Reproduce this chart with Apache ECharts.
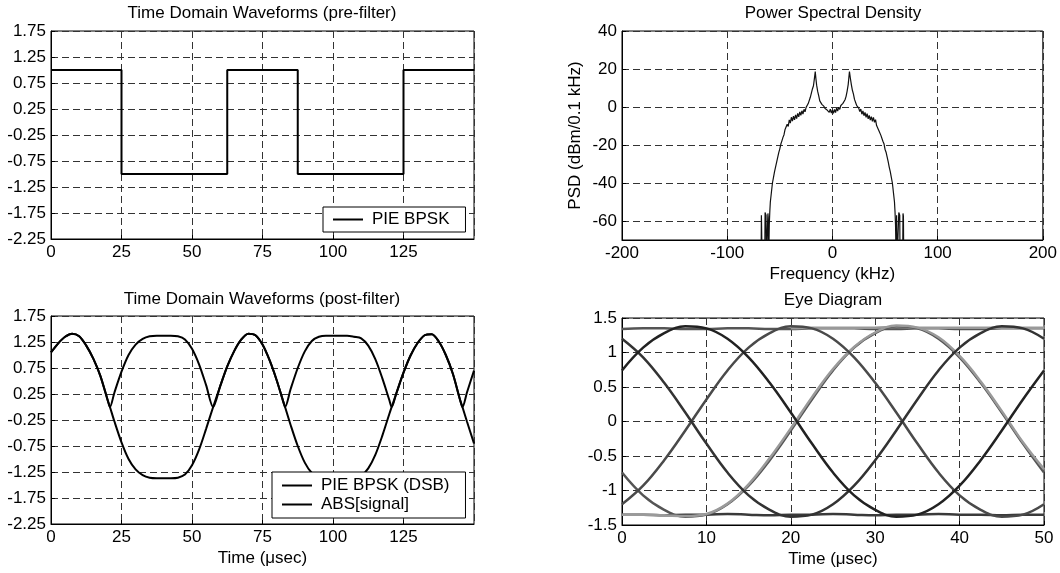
<!DOCTYPE html>
<html>
<head>
<meta charset="utf-8">
<script src="https://cdn.jsdelivr.net/npm/echarts@6/dist/echarts.min.js"></script>
<style>
    html, body { margin: 0; padding: 0; background: #fff; }
    #chart { width: 1060px; height: 573px; }
</style>
</head>
<body>
<div id="chart"></div>
<script>
// Datos

// Forma de onda antes del filtro (PIE BPSK)
const preTime = [0, 25, 25, 62.5, 62.5, 87.5, 87.5, 125, 125, 150];
const preLevel = [1, 1, -1, -1, 1, 1, -1, -1, 1, 1];

// Forma de onda después del filtro (µs)
const postTime = [0, 2.5, 5, 7.5, 10, 12.5, 15, 17.5, 20, 20.9, 22.5, 25, 27.5, 30, 32.5, 35, 37.5, 40,
    42.5, 45, 47.5, 50, 52.5, 55, 57.5, 60, 62.5, 65, 67.5, 70, 72.5, 75, 77.5, 80, 82.5, 83.0, 85,
    87.5, 90, 92.5, 95, 97.5, 100, 102.5, 105, 107.5, 110, 112.5, 115, 117.5, 120, 120.8, 122.5, 125,
    127.5, 130, 132.5, 135, 137.5, 140, 142.5, 145, 145.9, 147.5, 150];
const postSignal = [1.05, 1.22, 1.35, 1.41, 1.36, 1.18, 0.93, 0.60, 0.15, 0, -0.28, -0.68, -1.00, -1.20, -1.31,
    -1.36, -1.37, -1.37, -1.37, -1.36, -1.30, -1.12, -0.82, -0.42, 0.00, 0.40, 0.78, 1.08, 1.30, 1.41,
    1.38, 1.20, 0.90, 0.52, 0.08, 0, -0.35, -0.75, -1.07, -1.27, -1.35, -1.37, -1.37, -1.37, -1.37, -1.35,
    -1.32, -1.18, -0.92, -0.55, -0.13, 0, 0.27, 0.66, 0.99, 1.23, 1.38, 1.40, 1.26, 1.00, 0.64, 0.15, 0,
    -0.28, -0.70];
const postAbs = [1.05, 1.22, 1.35, 1.41, 1.36, 1.18, 0.93, 0.60, 0.15, 0, 0.28, 0.68, 1.00, 1.20, 1.31,
    1.36, 1.37, 1.37, 1.37, 1.36, 1.30, 1.12, 0.82, 0.42, 0.00, 0.40, 0.78, 1.08, 1.30, 1.41,
    1.38, 1.20, 0.90, 0.52, 0.08, 0, 0.35, 0.75, 1.07, 1.27, 1.35, 1.37, 1.37, 1.37, 1.37, 1.35,
    1.32, 1.18, 0.92, 0.55, 0.13, 0, 0.27, 0.66, 0.99, 1.23, 1.38, 1.40, 1.26, 1.00, 0.64, 0.15, 0,
    0.28, 0.70];

// Densidad espectral (kHz, dBm/0.1 kHz)
const psdFreq = [-70, -67.8, -67.5, -67.1, -66.8, -64.3, -64.0, -63.5, -63.1, -62.8, -61.6, -61.3, -61.0,
    -60.7, -60.4, -60.0, -59.5, -59, -58, -57, -56, -55, -54, -53, -52, -51, -50, -49, -48, -47, -46,
    -45, -44, -43, -42, -41, -40, -39, -38, -37, -36, -35, -34, -33, -32, -31, -30, -29, -28, -27, -26,
    -25, -24, -23, -22, -21, -20, -19, -18, -17, -16.3, -15.7, -15, -14, -13, -12, -11, -10, -9, -8,
    -7, -6, -5, -4, -3, -2, -1, 0, 1, 2, 3, 4, 5, 6, 7, 8, 9, 10, 11, 12, 13, 14, 15, 15.6, 16.2, 17,
    18, 19, 20, 21, 22, 23, 24, 25, 26, 27, 28, 29, 30, 31, 32, 33, 34, 35, 36, 37, 38, 39, 40, 41, 42,
    43, 44, 45, 46, 47, 48, 49, 50, 51, 52, 53, 54, 55, 56, 57, 58, 59, 59.5, 60.0, 60.4, 60.7, 61.0,
    61.3, 61.6, 62.8, 63.1, 63.5, 64.0, 64.3, 66.8, 67.1, 67.5, 67.8, 70];
const psdLevel = [-80, -80, -57, -56, -80, -80, -55.5, -55, -57, -80, -80, -56, -58,
    -80, -75, -62, -55, -50, -45, -40, -37, -34, -31.5, -29, -26.5, -24, -22, -19.5, -17.8, -16, -14.6,
    -11.8, -12.6, -9.1, -10.2, -6.8, -8.5, -5.4, -7.4, -4.8, -6.8, -4.1, -6.1, -3.4, -5.2, -2.6, -4.4, -2.0, -3.7, -1.2, -2.5,
    -0.2, -1.1, 1.8, 2.1, 5.1, 5.9, 9.5, 11.2, 15.5, 18.6, 15.0, 11.5, 8.2, 5.8, 3.2, 3.1, 1.4, 0.4, 0.3,
    -0.8, -0.4, -1.6, -1.1, -2.8, -1.2, -3.2, -1.6, -3.3, -1.3, -2.9, -0.6, -2.1, -0.1, -1.3, 0.8, -0.1, 1.9, 2.0, 3.8, 5.6, 8.4, 11.8, 15.2, 18.6, 15.4,
    11.8, 8.8, 6.8, 4.0, 3.2, 0.9, 0.6, -0.6, -2.4, -1.1, -3.8, -2.1, -4.6, -2.8, -5.4, -3.5, -6.2, -4.4, -6.9, -5.1, -7.5, -5.5, -8.1, -6.7, -9.8,
    -9.0, -12.2, -12.1, -14.8, -15.8, -18.0, -19.3, -22.2, -23.8, -26.2, -28.8, -31.6, -34, -37, -40, -45, -50, -55, -62, -75, -80, -57,
    -56, -80, -80, -55.5, -55, -57, -80, -80, -56, -57.5, -80, -80];

// Diagrama de ojo (µs)
const eyeTime = [0, 2.5, 5, 7.5, 10, 12.5, 15, 17.5, 20, 22.5, 25, 27.5, 30, 32.5, 35, 37.5, 40, 42.5, 45, 47.5, 50];
const eyeTop = [1.34, 1.35, 1.35, 1.34, 1.34, 1.35, 1.35, 1.34, 1.34, 1.35, 1.35, 1.35, 1.34, 1.34, 1.35, 1.35, 1.34, 1.34, 1.35, 1.35, 1.35];
const eyeBottom = [-1.35, -1.35, -1.36, -1.35, -1.35, -1.34, -1.35, -1.36, -1.35, -1.35, -1.34, -1.35, -1.36, -1.35, -1.35, -1.34, -1.35, -1.35, -1.36, -1.35, -1.35];
const eyeRiseA = [0.74, 1.07, 1.28, 1.38, 1.35, 1.20, 0.93, 0.56, 0.13, -0.32, -0.74, -1.07, -1.28, -1.38, -1.35, -1.20, -0.93, -0.56, -0.13, 0.32, 0.74];
const eyeFallA = [-0.74, -1.07, -1.28, -1.38, -1.35, -1.20, -0.93, -0.56, -0.13, 0.32, 0.74, 1.07, 1.28, 1.38, 1.35, 1.20, 0.93, 0.56, 0.13, -0.32, -0.74];
const eyeFallB = [1.20, 0.93, 0.56, 0.13, -0.32, -0.74, -1.07, -1.28, -1.38, -1.35, -1.20, -0.93, -0.56, -0.13, 0.32, 0.74, 1.07, 1.28, 1.38, 1.35, 1.20];
const eyeRiseB = [-1.20, -0.93, -0.56, -0.13, 0.32, 0.74, 1.07, 1.28, 1.38, 1.35, 1.20, 0.93, 0.56, 0.13, -0.32, -0.74, -1.07, -1.28, -1.38, -1.35, -1.20];
const eyeLight = [-1.35, -1.35, -1.36, -1.37, -1.34, -1.19, -0.91, -0.53, -0.10, 0.35, 0.76, 1.08, 1.29, 1.39, 1.36, 1.22, 0.95, 0.58, 0.15, -0.30, -0.69];
const eyeLightTop = [null, null, null, null, null, null, null, null, 1.35, 1.36, 1.36, 1.36, 1.36, 1.37, 1.36, 1.36, 1.36, 1.36, 1.36, 1.36, 1.36];

// Marcas de los ejes
const leftTicks = { min: -2.25, max: 1.75, step: 0.5 };
const timeTicks = { min: 0, max: 150, step: 25 };
const freqTicks = { min: -200, max: 200, step: 100 };
const psdRange = { min: -70, max: 40 };
const eyeXTicks = { min: 0, max: 50, step: 10 };
const eyeYTicks = { min: -1.5, max: 1.5, step: 0.5 };

const FUENTE = '"Liberation Sans", Arial, Helvetica, sans-serif';
const TAM = 17;

function pares(xs, ys) {
    return xs.map((x, i) => [x, ys[i]]);
}

function eje(gridIndex, extra, labelExtra) {
    return Object.assign({
        type: 'value',
        gridIndex: gridIndex,
        axisLine: { show: true, onZero: false, lineStyle: { color: '#000', width: 1 } },
        axisTick: { show: true, inside: true, length: 4, lineStyle: { color: '#000' } },
        axisLabel: Object.assign({ color: '#000', fontSize: TAM, fontFamily: FUENTE, margin: 5 }, labelExtra || {}),
        splitLine: { show: true, lineStyle: { color: '#333', type: [7, 4], width: 1 } },
        nameTextStyle: { color: '#000', fontSize: TAM, fontFamily: FUENTE }
    }, extra);
}

function linea(nombre, xi, xs, ys, color, ancho, extra) {
    return Object.assign({
        name: nombre,
        type: 'line',
        xAxisIndex: xi,
        yAxisIndex: xi,
        data: pares(xs, ys),
        symbol: 'none',
        lineStyle: { color: color, width: ancho },
        itemStyle: { color: color },
        emphasis: { disabled: true }
    }, extra || {});
}

const dos = v => v.toFixed(2);

const leyendaBase = {
    orient: 'vertical',
    icon: 'rect',
    itemWidth: 30,
    itemHeight: 2,
    backgroundColor: '#fff',
    borderColor: '#000',
    borderWidth: 1,
    borderRadius: 0,
    selectedMode: false,
    textStyle: { color: '#000', fontSize: TAM, fontFamily: FUENTE, padding: [0, 0, 0, 4] }
};

const tituloBase = { textAlign: 'center', padding: 0, textStyle: { color: '#000', fontSize: TAM, fontWeight: 'normal', fontFamily: FUENTE } };

const myChart = echarts.init(document.getElementById('chart'));

const option = {
    animation: false,
    backgroundColor: '#fff',
    title: [
        Object.assign({ text: 'Time Domain Waveforms (pre-filter)', left: 262, top: 5 }, tituloBase),
        Object.assign({ text: 'Power Spectral Density', left: 833, top: 5 }, tituloBase),
        Object.assign({ text: 'Time Domain Waveforms (post-filter)', left: 262, top: 291 }, tituloBase),
        Object.assign({ text: 'Eye Diagram', left: 833, top: 292 }, tituloBase)
    ],
    legend: [
        Object.assign({}, leyendaBase, { data: ['PIE BPSK'], left: 323, top: 207, padding: [4, 16, 4, 10] }),
        Object.assign({}, leyendaBase, { data: ['PIE BPSK (DSB)', 'ABS[signal]'], left: 272, top: 472, itemGap: 2, padding: [5, 16, 5, 10] })
    ],
    grid: [
        { left: 51, top: 31, width: 423, height: 208, show: true, borderColor: '#000', borderWidth: 1, backgroundColor: '#fff' },
        { left: 622, top: 31, width: 422, height: 209, show: true, borderColor: '#000', borderWidth: 1, backgroundColor: '#fff' },
        { left: 51, top: 316, width: 423, height: 208, show: true, borderColor: '#000', borderWidth: 1, backgroundColor: '#fff' },
        { left: 622, top: 318, width: 422, height: 207, show: true, borderColor: '#000', borderWidth: 1, backgroundColor: '#fff' }
    ],
    xAxis: [
        eje(0, { min: timeTicks.min, max: timeTicks.max, interval: timeTicks.step }, { showMaxLabel: false }),
        eje(1, { min: freqTicks.min, max: freqTicks.max, interval: freqTicks.step,
            name: 'Frequency (kHz)', nameLocation: 'middle', nameGap: 26 }),
        eje(2, { min: timeTicks.min, max: timeTicks.max, interval: timeTicks.step,
            name: 'Time (μsec)', nameLocation: 'middle', nameGap: 26 }, { showMaxLabel: false }),
        eje(3, { min: eyeXTicks.min, max: eyeXTicks.max, interval: eyeXTicks.step,
            name: 'Time (μsec)', nameLocation: 'middle', nameGap: 26 })
    ],
    yAxis: [
        eje(0, { min: leftTicks.min, max: leftTicks.max, interval: leftTicks.step }, { formatter: dos }),
        eje(1, { min: psdRange.min, max: psdRange.max, splitNumber: 5,
            name: 'PSD (dBm/0.1 kHz)', nameLocation: 'middle', nameGap: 38 }, { showMinLabel: false }),
        eje(2, { min: leftTicks.min, max: leftTicks.max, interval: leftTicks.step }, { formatter: dos }),
        eje(3, { min: eyeYTicks.min, max: eyeYTicks.max, interval: eyeYTicks.step })
    ],
    series: [
        linea('PIE BPSK', 0, preTime, preLevel, '#000', 2),
        linea('PSD', 1, psdFreq, psdLevel, '#111', 1.2, { clip: true }),
        linea('PIE BPSK (DSB)', 2, postTime, postSignal, '#000', 2, { smooth: 0.3 }),
        linea('ABS[signal]', 2, postTime, postAbs, '#000', 2, { smooth: 0.3 }),
        linea('ojo arriba', 3, eyeTime, eyeTop, '#555', 2.5, { smooth: 0.4 }),
        linea('ojo abajo', 3, eyeTime, eyeBottom, '#3a3a3a', 2.5, { smooth: 0.4 }),
        linea('ojo claro arriba', 3, eyeTime, eyeLightTop, '#999', 2.5, { smooth: 0.4 }),
        linea('ojo A baja', 3, eyeTime, eyeFallA, '#555', 2.5, { smooth: 0.4 }),
        linea('ojo claro', 3, eyeTime, eyeLight, '#9a9a9a', 2.5, { smooth: 0.4 }),
        linea('ojo B sube', 3, eyeTime, eyeRiseB, '#4a4a4a', 2.5, { smooth: 0.4 }),
        linea('ojo B baja', 3, eyeTime, eyeFallB, '#333', 2.5, { smooth: 0.4 }),
        linea('ojo A sube', 3, eyeTime, eyeRiseA, '#222', 2.5, { smooth: 0.4 })
    ]
};

myChart.setOption(option);
window.addEventListener('resize', () => myChart.resize());
</script>
</body>
</html>
